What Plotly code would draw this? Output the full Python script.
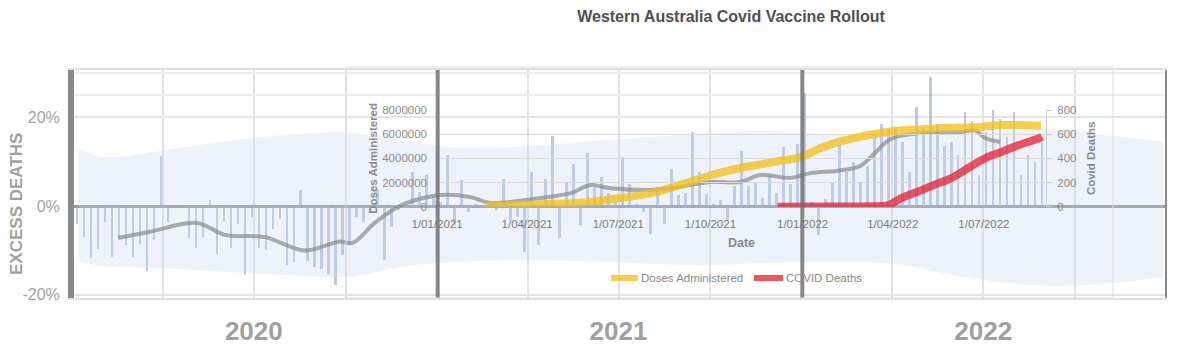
import plotly.graph_objects as go
import pandas as pd

W, H = 1191, 350


def px(x):
    return x / W


def py(y):
    return 1 - y / H


# ---------------- Background chart: weekly excess deaths (%) ----------------
week_start = "2020-01-06"
excess_pct = [
    -4, -7, -11.8, -9.6, -3.6, -11.5, -7.3, -8.8, -11.5, -8.5,
    -14.7, -7.7, 11.2, -3.6, 0.3, 0.3, -7.3, -9.4, -7, 1.3,
    -10.7, -3.6, -9.4, -4, -15.6, -2.5, -9.4, -10, -5.1, -3,
    -13.2, -12.6, 3.5, -12.4, -13.7, -14.1, -15.2, -17.8, -11.1, -8.8,
    -2.5, -3.6, -1.3, 3.9, -12.2, -4.7, -1, -0.5, 7.6, 3.1,
    6.9, 2.4, 1, 11.4, -4.3, 5.8, -1.3, 0.5, -0.5, 0.5,
    -1, 6.1, -3.2, -2.5, -10.3, 7.6, -8.8, 6.1, 15.7, -7.3,
    5.4, 9.5, -4.3, 12, 4.3, 6.5, 3, 1, 11, 5,
    0.5, -1.3, -6.2, 4.3, -4, 8.4, 2.4, 3, 16.6, 7.6,
    2.8, 0.5, 1.3, -3.2, 4.6, 12.3, 4.6, 5.5, 1.8, 6.9,
    3, 13.3, 5, 14, 25.5, 1, -6.6, 1.5, 5.4, 13.7,
    7.6, 10, 5.4, 9.1, 15.9, 18.5, 17.4, 17.8, 14.5, 7.6,
    22.2, 17.4, 29, 18.5, 13.6, 14.4, 11.4, 21.1, 19.2, 6.9,
    16.6, 21.6, 19.6, 15.5, 21.1, 6.9, 11.4, 9.9, 14.4,
]
weeks = pd.date_range(week_start, periods=len(excess_pct), freq="7D")

band_dates = [
    "2020-01-08", "2020-02-01", "2020-04-01", "2020-06-01", "2020-08-01",
    "2020-10-01", "2020-12-01", "2021-02-01", "2021-04-01", "2021-06-01",
    "2021-08-01", "2021-10-01", "2021-12-01", "2022-02-01", "2022-04-01",
    "2022-06-01", "2022-08-01", "2022-09-15", "2022-11-01", "2022-12-28",
]
band_upper = [13, 11, 12.5, 14.5, 16, 16.5, 14.5, 13, 13.5, 14.5,
              15.5, 16.5, 16.8, 16, 16, 16.5, 17, 17.2, 16, 14.5]
band_lower = [-12.5, -13.5, -14, -14.8, -15.5, -16, -13.5, -12.5, -12.2, -12.5,
              -13, -13.3, -12.8, -12.6, -13, -15.5, -17.5, -18, -17.5, -16]

ma_dates = [
    "2020-02-16", "2020-03-19", "2020-05-05", "2020-06-02", "2020-07-12",
    "2020-08-21", "2020-09-25", "2020-10-08", "2020-10-30", "2020-11-24",
    "2020-12-09", "2021-01-04", "2021-02-03", "2021-02-23", "2021-04-14",
    "2021-05-14", "2021-06-03", "2021-06-23", "2021-08-02", "2021-08-22",
    "2021-10-01", "2021-10-31", "2021-11-20", "2021-12-20", "2022-01-09",
    "2022-02-08", "2022-02-28", "2022-03-15", "2022-03-30", "2022-04-29",
    "2022-06-08", "2022-06-23", "2022-07-03", "2022-07-18",
]
ma_pct = [
    -7.2, -5.8, -3.8, -6.5, -7, -10, -8, -8.3, -3.8, 0,
    1.3, 2.5, 2, 0.7, 1.8, 2.9, 4.7, 4, 3.6, 4,
    5.4, 5.4, 7, 6.3, 7.4, 8, 9, 12, 15, 16.4,
    16.6, 17, 15.3, 14.4,
]

year_bounds = ["2020-01-01", "2021-01-01", "2022-01-01", "2023-01-01"]
year_mid = ["2020-07-01", "2021-07-01", "2022-07-01"]
year_labels = ["2020", "2021", "2022"]
pct_ticks = [-20, 0, 20]
pct_labels = ["-20%", "0%", "20%"]

# ---------------- Inset chart: WA vaccine rollout ----------------
dose_dates = [
    "2021-02-18", "2021-03-15", "2021-04-14", "2021-06-03", "2021-07-01",
    "2021-08-02", "2021-09-01", "2021-10-01", "2021-10-31", "2021-11-20",
    "2021-12-10", "2021-12-30", "2022-01-19", "2022-02-08", "2022-02-28",
    "2022-03-20", "2022-04-09", "2022-05-19", "2022-06-28", "2022-07-18",
    "2022-08-27",
]
doses = [
    0, 100000, 200000, 400000, 700000,
    1100000, 1800000, 2600000, 3200000, 3500000,
    3800000, 4100000, 4850000, 5400000, 5800000,
    6100000, 6300000, 6500000, 6600000, 6750000,
    6700000,
]

death_dates = [
    "2021-12-07", "2022-02-01", "2022-03-20", "2022-03-28", "2022-04-09",
    "2022-04-26", "2022-05-12", "2022-05-29", "2022-06-15", "2022-07-02",
    "2022-07-19", "2022-08-05", "2022-08-25", "2022-08-28",
]
deaths = [0, 2, 5, 14, 69, 124, 180, 235, 318, 400, 455, 510, 566, 578]

inset_ticks = ["2021-01-01", "2021-04-01", "2021-07-01", "2021-10-01",
               "2022-01-01", "2022-04-01", "2022-07-01"]
inset_ticktext = ["1/01/2021", "1/04/2021", "1/07/2021", "1/10/2021",
                  "1/01/2022", "1/04/2022", "1/07/2022"]
dose_ticks = [0, 2000000, 4000000, 6000000, 8000000]
death_ticks = [0, 200, 400, 600, 800]

FONT = "Liberation Sans"
YELLOW = "rgba(242,192,30,0.78)"
RED = "rgba(228,30,45,0.75)"

fig = go.Figure()

fig.add_trace(go.Scatter(x=band_dates, y=band_lower, mode="lines",
                         line=dict(width=0, shape="spline"), hoverinfo="skip",
                         showlegend=False))
fig.add_trace(go.Scatter(x=band_dates, y=band_upper, mode="lines",
                         line=dict(width=0, shape="spline"), fill="tonexty",
                         fillcolor="rgba(200,212,240,0.30)", hoverinfo="skip",
                         showlegend=False))
fig.add_trace(go.Bar(x=weeks, y=excess_pct, width=2.6 * 86400000,
                     marker=dict(color="rgba(140,168,220,0.62)", line=dict(width=0)),
                     showlegend=False, name="Excess deaths"))
fig.add_trace(go.Scatter(x=ma_dates, y=ma_pct, mode="lines",
                         line=dict(color="rgba(140,140,140,0.72)", width=4, shape="spline"),
                         showlegend=False, name="Average"))

fig.add_trace(go.Scatter(x=dose_dates, y=doses, mode="lines", xaxis="x2", yaxis="y2",
                         line=dict(color=YELLOW, width=8, shape="spline"),
                         name="Doses Administered", showlegend=False))
fig.add_trace(go.Scatter(x=death_dates, y=deaths, mode="lines", xaxis="x2", yaxis="y3",
                         line=dict(color=RED, width=8, shape="spline"),
                         name="COVID Deaths", showlegend=False))

shapes = []
for i, d in enumerate(year_bounds):
    shapes.append(dict(type="line", xref="x", yref="paper", x0=d, x1=d,
                       y0=py(298), y1=py(70),
                       line=dict(color="rgba(110,110,110,0.8)" if 0 < i < 3 else "#8a8a8a",
                                 width=4)))
# inset frame
shapes.append(dict(type="rect", xref="paper", yref="paper",
                   x0=px(346), x1=px(1113), y0=py(298), y1=py(67),
                   line=dict(color="#dedede", width=1), fillcolor="rgba(255,255,255,0)"))
# manual legend samples
shapes.append(dict(type="line", xref="paper", yref="paper", x0=px(611), x1=px(638),
                   y0=py(278), y1=py(278), line=dict(color=YELLOW, width=6)))
shapes.append(dict(type="line", xref="paper", yref="paper", x0=px(754), x1=px(783),
                   y0=py(278), y1=py(278), line=dict(color=RED, width=6)))

annotations = [
    dict(text="Doses Administered", xref="paper", yref="paper", x=px(639), y=py(278),
         xanchor="left", yanchor="middle", showarrow=False,
         font=dict(family=FONT, size=11.5, color="#8a8a8a")),
    dict(text="COVID Deaths", xref="paper", yref="paper", x=px(784), y=py(278),
         xanchor="left", yanchor="middle", showarrow=False,
         font=dict(family=FONT, size=11.5, color="#8a8a8a")),
    dict(text="EXCESS DEATHS", xref="paper", yref="paper", x=px(16), y=py(204),
         xanchor="center", yanchor="middle", showarrow=False, textangle=-90,
         font=dict(family=FONT, size=17, color="#a0a0a0", weight="bold")),
]

fig.update_layout(
    width=W, height=H, margin=dict(l=0, r=0, t=0, b=0, autoexpand=False),
    paper_bgcolor="white", plot_bgcolor="rgba(0,0,0,0)",
    showlegend=False, bargap=0,
    title=dict(text="Western Australia Covid Vaccine Rollout", x=px(731), y=py(16),
               xanchor="center", yanchor="middle", automargin=False,
               font=dict(family=FONT, size=16, color="#505050", weight="bold")),
    xaxis=dict(domain=[px(72), px(1167)], range=["2020-01-01", "2023-01-01"],
               automargin=False,
               tickvals=year_mid, ticktext=year_labels, ticks="",
               tickfont=dict(family=FONT, size=26, color="#a0a0a0", weight="bold"),
               ticklabelstandoff=9, showgrid=False, zeroline=False,
               showline=True, linecolor="#e0e0e0", linewidth=2, mirror=True,
               minor=dict(dtick="M3", tick0="2020-01-01", showgrid=True,
                          gridcolor="#e2e2e2", gridwidth=2)),
    yaxis=dict(domain=[py(298), py(70)], range=[-20.7, 30.6], automargin=False,
               tickvals=pct_ticks, ticktext=pct_labels, ticks="",
               tickfont=dict(family=FONT, size=16, color="#a3a3a3"),
               ticklabelstandoff=5, showgrid=True, gridcolor="#e4e4e4", gridwidth=2,
               zeroline=True, zerolinecolor="#9a9a9a", zerolinewidth=3,
               showline=True, linecolor="#8a8a8a", linewidth=4,
               minor=dict(tickvals=[25, 30], showgrid=True, gridcolor="#ececec", gridwidth=2)),
    xaxis2=dict(domain=[px(437), px(1046)], range=["2021-01-01", "2022-09-01"],
                anchor="y2", automargin=False,
                tickvals=inset_ticks, ticktext=inset_ticktext, ticks="",
                ticklabelstandoff=9,
                tickfont=dict(family=FONT, size=11.5, color="#7a7a7a"),
                showgrid=False, zeroline=False, showline=False,
                title=dict(text="Date", standoff=9,
                           font=dict(family=FONT, size=12.5, color="#8a8a8a", weight="bold"))),
    yaxis2=dict(domain=[py(206.7), py(110)], range=[0, 8000000], anchor="x2",
                automargin=False,
                tickvals=dose_ticks, tickformat="d", ticks="",
                tickfont=dict(family=FONT, size=11.5, color="#8a8a8a"),
                ticklabelstandoff=9, showgrid=True, gridcolor="#d9d9d9", gridwidth=1,
                zeroline=False, showline=False,
                title=dict(text="Doses Administered", standoff=2,
                           font=dict(family=FONT, size=11.5, color="#8a8a8a", weight="bold"))),
    yaxis3=dict(overlaying="y2", side="right", anchor="x2", range=[0, 800],
                automargin=False,
                tickvals=death_ticks, ticks="outside", ticklen=5, tickcolor="#c8c8c8",
                tickfont=dict(family=FONT, size=11.5, color="#8a8a8a"),
                ticklabelstandoff=3,
                showline=True, linecolor="#cfcfcf", linewidth=1,
                showgrid=False, zeroline=False,
                title=dict(text="Covid Deaths", standoff=11,
                           font=dict(family=FONT, size=11.5, color="#8a8a8a", weight="bold"))),
    shapes=shapes, annotations=annotations,
)

fig.write_html("out.html")
